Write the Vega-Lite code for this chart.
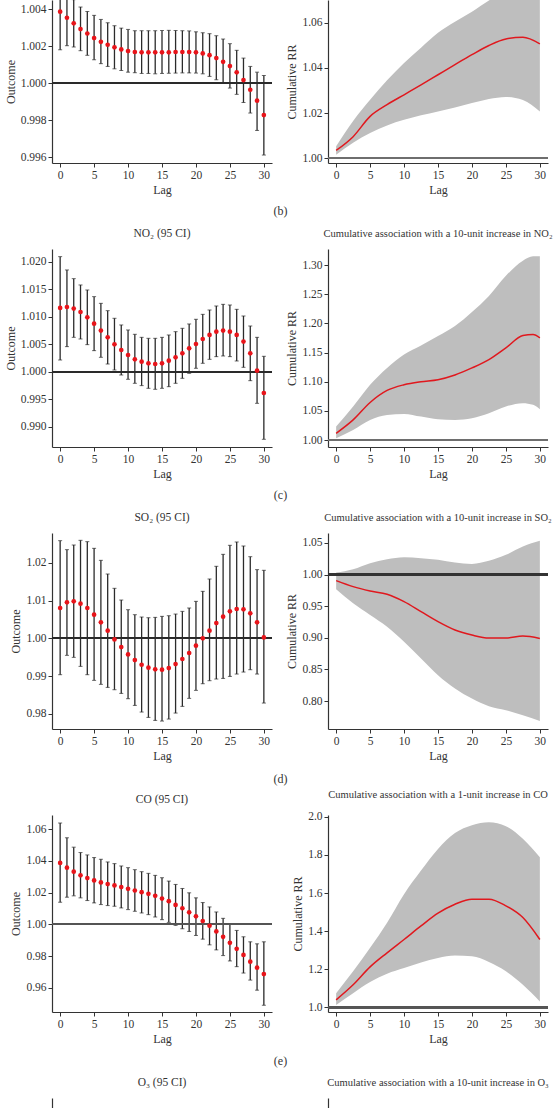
{
  "$schema": "https://vega.github.io/schema/vega-lite/v6.json",
  "padding": {"left": 4, "top": 0, "right": 0, "bottom": 0},
  "bounds": "flush",
  "columns": 2,
  "spacing": {"row": 86, "column": 56},
  "datasets": {
    "pm_lag": [
      {"lag":0,"est":1.00386,"lo":1.0018,"hi":1.0059},
      {"lag":1,"est":1.00353,"lo":1.00202,"hi":1.00504},
      {"lag":2,"est":1.00323,"lo":1.00195,"hi":1.00451},
      {"lag":3,"est":1.00292,"lo":1.00175,"hi":1.00411},
      {"lag":4,"est":1.00268,"lo":1.0015,"hi":1.00387},
      {"lag":5,"est":1.00243,"lo":1.00126,"hi":1.00366},
      {"lag":6,"est":1.00223,"lo":1.00105,"hi":1.00344},
      {"lag":7,"est":1.00207,"lo":1.0009,"hi":1.00326},
      {"lag":8,"est":1.00193,"lo":1.00077,"hi":1.0031},
      {"lag":9,"est":1.00182,"lo":1.00068,"hi":1.00297},
      {"lag":10,"est":1.00173,"lo":1.00059,"hi":1.0029},
      {"lag":11,"est":1.00168,"lo":1.00056,"hi":1.00283},
      {"lag":12,"est":1.00166,"lo":1.00052,"hi":1.00283},
      {"lag":13,"est":1.00166,"lo":1.00052,"hi":1.00283},
      {"lag":14,"est":1.00166,"lo":1.0005,"hi":1.00283},
      {"lag":15,"est":1.00166,"lo":1.00052,"hi":1.00284},
      {"lag":16,"est":1.00166,"lo":1.00053,"hi":1.00285},
      {"lag":17,"est":1.00168,"lo":1.00054,"hi":1.00284},
      {"lag":18,"est":1.00168,"lo":1.00055,"hi":1.00283},
      {"lag":19,"est":1.00168,"lo":1.00055,"hi":1.00282},
      {"lag":20,"est":1.00166,"lo":1.00054,"hi":1.00277},
      {"lag":21,"est":1.0016,"lo":1.0005,"hi":1.00272},
      {"lag":22,"est":1.00151,"lo":1.00036,"hi":1.00267},
      {"lag":23,"est":1.00135,"lo":1.00018,"hi":1.00256},
      {"lag":24,"est":1.00115,"lo":1.0,"hi":1.00238},
      {"lag":25,"est":1.00092,"lo":0.99973,"hi":1.00213},
      {"lag":26,"est":1.00058,"lo":0.99939,"hi":1.00177},
      {"lag":27,"est":1.00016,"lo":0.99895,"hi":1.00135},
      {"lag":28,"est":0.99964,"lo":0.99838,"hi":1.0009},
      {"lag":29,"est":0.99905,"lo":0.99744,"hi":1.00059},
      {"lag":30,"est":0.99827,"lo":0.99611,"hi":1.00041}
    ],
    "pm_cum": [
      {"lag":0,"est":1.0034,"lo":1.0015,"hi":1.0052},
      {"lag":2.5,"est":1.0095,"lo":1.0068,"hi":1.0165},
      {"lag":5,"est":1.0185,"lo":1.0111,"hi":1.0259},
      {"lag":7.5,"est":1.0237,"lo":1.0145,"hi":1.0345},
      {"lag":10,"est":1.0281,"lo":1.017,"hi":1.0422},
      {"lag":12.5,"est":1.0325,"lo":1.019,"hi":1.049},
      {"lag":15,"est":1.037,"lo":1.0207,"hi":1.0556},
      {"lag":17.5,"est":1.0415,"lo":1.0225,"hi":1.0605},
      {"lag":20,"est":1.0459,"lo":1.0244,"hi":1.065},
      {"lag":22.5,"est":1.05,"lo":1.0262,"hi":1.07},
      {"lag":25,"est":1.0529,"lo":1.0271,"hi":1.074},
      {"lag":27.5,"est":1.0536,"lo":1.0258,"hi":1.078},
      {"lag":30,"est":1.0507,"lo":1.0207,"hi":1.081}
    ],
    "no2_lag": [
      {"lag":0,"est":1.01164,"lo":1.00218,"hi":1.02097},
      {"lag":1,"est":1.01182,"lo":1.00461,"hi":1.01855},
      {"lag":2,"est":1.01152,"lo":1.0063,"hi":1.01697},
      {"lag":3,"est":1.01091,"lo":1.006,"hi":1.01582},
      {"lag":4,"est":1.00994,"lo":1.00497,"hi":1.01491},
      {"lag":5,"est":1.00879,"lo":1.00388,"hi":1.0137},
      {"lag":6,"est":1.00752,"lo":1.00267,"hi":1.01248},
      {"lag":7,"est":1.0063,"lo":1.00145,"hi":1.01115},
      {"lag":8,"est":1.00503,"lo":1.00036,"hi":1.00976},
      {"lag":9,"est":1.004,"lo":0.99945,"hi":1.00855},
      {"lag":10,"est":1.00309,"lo":0.99867,"hi":1.00764},
      {"lag":11,"est":1.0023,"lo":0.99794,"hi":1.00685},
      {"lag":12,"est":1.00188,"lo":0.99752,"hi":1.0063},
      {"lag":13,"est":1.00158,"lo":0.99703,"hi":1.00612},
      {"lag":14,"est":1.00145,"lo":0.99685,"hi":1.00612},
      {"lag":15,"est":1.00158,"lo":0.99703,"hi":1.0063},
      {"lag":16,"est":1.00206,"lo":0.99733,"hi":1.00673},
      {"lag":17,"est":1.00267,"lo":0.99794,"hi":1.00733},
      {"lag":18,"est":1.00339,"lo":0.99885,"hi":1.00794},
      {"lag":19,"est":1.0043,"lo":0.99976,"hi":1.00873},
      {"lag":20,"est":1.00509,"lo":1.00067,"hi":1.00958},
      {"lag":21,"est":1.006,"lo":1.00158,"hi":1.01048},
      {"lag":22,"est":1.00673,"lo":1.0023,"hi":1.01127},
      {"lag":23,"est":1.00733,"lo":1.00279,"hi":1.012},
      {"lag":24,"est":1.00752,"lo":1.00291,"hi":1.0123},
      {"lag":25,"est":1.00733,"lo":1.00279,"hi":1.01218},
      {"lag":26,"est":1.00673,"lo":1.002,"hi":1.01139},
      {"lag":27,"est":1.00552,"lo":1.00085,"hi":1.01018},
      {"lag":28,"est":1.00339,"lo":0.99842,"hi":1.00836},
      {"lag":29,"est":1.00024,"lo":0.9943,"hi":1.0063},
      {"lag":30,"est":0.99618,"lo":0.98776,"hi":1.00285}
    ],
    "no2_cum": [
      {"lag":0,"est":1.0115,"lo":1.0029,"hi":1.023},
      {"lag":2.5,"est":1.0345,"lo":1.0172,"hi":1.0575},
      {"lag":5,"est":1.0644,"lo":1.0345,"hi":1.0948},
      {"lag":7.5,"est":1.085,"lo":1.0431,"hi":1.1236},
      {"lag":10,"est":1.0948,"lo":1.0448,"hi":1.1466},
      {"lag":12.5,"est":1.1,"lo":1.0402,"hi":1.162},
      {"lag":15,"est":1.1034,"lo":1.0356,"hi":1.1782},
      {"lag":17.5,"est":1.1115,"lo":1.0345,"hi":1.1954},
      {"lag":20,"est":1.1236,"lo":1.0374,"hi":1.2195},
      {"lag":22.5,"est":1.1379,"lo":1.046,"hi":1.2471},
      {"lag":25,"est":1.158,"lo":1.0575,"hi":1.2816},
      {"lag":27.5,"est":1.1793,"lo":1.0632,"hi":1.3075},
      {"lag":29,"est":1.181,"lo":1.0603,"hi":1.315},
      {"lag":30,"est":1.1753,"lo":1.0529,"hi":1.315}
    ],
    "so2_lag": [
      {"lag":0,"est":1.00804,"lo":0.99038,"hi":1.02587},
      {"lag":1,"est":1.00954,"lo":0.9955,"hi":1.02349},
      {"lag":2,"est":1.0098,"lo":0.99497,"hi":1.02472},
      {"lag":3,"est":1.00918,"lo":0.99258,"hi":1.02596},
      {"lag":4,"est":1.00804,"lo":0.99038,"hi":1.02561},
      {"lag":5,"est":1.00627,"lo":0.98888,"hi":1.02384},
      {"lag":6,"est":1.00424,"lo":0.98782,"hi":1.02066},
      {"lag":7,"est":1.00203,"lo":0.98702,"hi":1.01704},
      {"lag":8,"est":0.99973,"lo":0.9864,"hi":1.01325},
      {"lag":9,"est":0.9977,"lo":0.98543,"hi":1.01015},
      {"lag":10,"est":0.99576,"lo":0.98402,"hi":1.00759},
      {"lag":11,"est":0.99426,"lo":0.98225,"hi":1.00627},
      {"lag":12,"est":0.99302,"lo":0.98049,"hi":1.00565},
      {"lag":13,"est":0.99223,"lo":0.97907,"hi":1.00547},
      {"lag":14,"est":0.99179,"lo":0.97828,"hi":1.00556},
      {"lag":15,"est":0.9917,"lo":0.9781,"hi":1.00583},
      {"lag":16,"est":0.99214,"lo":0.97863,"hi":1.006},
      {"lag":17,"est":0.9932,"lo":0.98022,"hi":1.00644},
      {"lag":18,"est":0.99453,"lo":0.98199,"hi":1.00715},
      {"lag":19,"est":0.99612,"lo":0.98411,"hi":1.00804},
      {"lag":20,"est":0.99806,"lo":0.98623,"hi":1.0098},
      {"lag":21,"est":1.0,"lo":0.98799,"hi":1.01245},
      {"lag":22,"est":1.00203,"lo":0.98879,"hi":1.01572},
      {"lag":23,"est":1.00406,"lo":0.98923,"hi":1.01908},
      {"lag":24,"est":1.00574,"lo":0.9894,"hi":1.02225},
      {"lag":25,"est":1.00715,"lo":0.98993,"hi":1.02464},
      {"lag":26,"est":1.00777,"lo":0.99055,"hi":1.02552},
      {"lag":27,"est":1.00768,"lo":0.99108,"hi":1.02446},
      {"lag":28,"est":1.00662,"lo":0.9917,"hi":1.02163},
      {"lag":29,"est":1.00424,"lo":0.99055,"hi":1.0182},
      {"lag":30,"est":1.00026,"lo":0.98287,"hi":1.01802}
    ],
    "so2_cum": [
      {"lag":0,"est":0.9905,"lo":0.9767,"hi":1.0032},
      {"lag":2.5,"est":0.981,"lo":0.9545,"hi":1.0085},
      {"lag":5,"est":0.9741,"lo":0.936,"hi":1.018},
      {"lag":7.5,"est":0.9688,"lo":0.9175,"hi":1.0243},
      {"lag":10,"est":0.9572,"lo":0.8938,"hi":1.0275},
      {"lag":12.5,"est":0.9413,"lo":0.8673,"hi":1.0259},
      {"lag":15,"est":0.9255,"lo":0.8409,"hi":1.0233},
      {"lag":17.5,"est":0.9123,"lo":0.8198,"hi":1.019},
      {"lag":20,"est":0.9043,"lo":0.8039,"hi":1.0169},
      {"lag":22.5,"est":0.8996,"lo":0.7918,"hi":1.0217},
      {"lag":25,"est":0.8996,"lo":0.7854,"hi":1.0312},
      {"lag":27.5,"est":0.9027,"lo":0.7775,"hi":1.0444},
      {"lag":30,"est":0.899,"lo":0.7685,"hi":1.0534}
    ],
    "co_lag": [
      {"lag":0,"est":1.03869,"lo":1.01395,"hi":1.06385},
      {"lag":1,"est":1.03573,"lo":1.01712,"hi":1.05455},
      {"lag":2,"est":1.03319,"lo":1.01797,"hi":1.04863},
      {"lag":3,"est":1.03087,"lo":1.0167,"hi":1.04524},
      {"lag":4,"est":1.02918,"lo":1.01501,"hi":1.04376},
      {"lag":5,"est":1.0277,"lo":1.01353,"hi":1.04207},
      {"lag":6,"est":1.02643,"lo":1.01247,"hi":1.04101},
      {"lag":7,"est":1.02537,"lo":1.01184,"hi":1.03932},
      {"lag":8,"est":1.02452,"lo":1.01142,"hi":1.03827},
      {"lag":9,"est":1.02347,"lo":1.01036,"hi":1.03679},
      {"lag":10,"est":1.02241,"lo":1.0093,"hi":1.03573},
      {"lag":11,"est":1.02135,"lo":1.00825,"hi":1.03446},
      {"lag":12,"est":1.0203,"lo":1.00719,"hi":1.03319},
      {"lag":13,"est":1.01924,"lo":1.00613,"hi":1.03214},
      {"lag":14,"est":1.01797,"lo":1.00465,"hi":1.03087},
      {"lag":15,"est":1.01628,"lo":1.00296,"hi":1.02939},
      {"lag":16,"est":1.01459,"lo":1.00127,"hi":1.02727},
      {"lag":17,"est":1.01226,"lo":0.99937,"hi":1.02516},
      {"lag":18,"est":1.01015,"lo":0.99725,"hi":1.02262},
      {"lag":19,"est":1.00761,"lo":0.99556,"hi":1.01987},
      {"lag":20,"est":1.00507,"lo":0.99302,"hi":1.0167},
      {"lag":21,"est":1.00211,"lo":0.9907,"hi":1.01374},
      {"lag":22,"est":0.99915,"lo":0.9871,"hi":1.01099},
      {"lag":23,"est":0.99556,"lo":0.98393,"hi":1.00782},
      {"lag":24,"est":0.99218,"lo":0.98034,"hi":1.00381},
      {"lag":25,"est":0.98837,"lo":0.97696,"hi":1.00021},
      {"lag":26,"est":0.98457,"lo":0.97336,"hi":0.99619},
      {"lag":27,"est":0.98076,"lo":0.96934,"hi":0.99218},
      {"lag":28,"est":0.97653,"lo":0.9649,"hi":0.98901},
      {"lag":29,"est":0.97273,"lo":0.95856,"hi":0.98774},
      {"lag":30,"est":0.96871,"lo":0.94905,"hi":0.98901}
    ],
    "co_cum": [
      {"lag":0,"est":1.039,"lo":1.012,"hi":1.074},
      {"lag":2.5,"est":1.118,"lo":1.074,"hi":1.189},
      {"lag":5,"est":1.212,"lo":1.132,"hi":1.312},
      {"lag":7.5,"est":1.286,"lo":1.176,"hi":1.444},
      {"lag":10,"est":1.356,"lo":1.206,"hi":1.594},
      {"lag":12.5,"est":1.427,"lo":1.235,"hi":1.718},
      {"lag":15,"est":1.494,"lo":1.259,"hi":1.832},
      {"lag":17.5,"est":1.541,"lo":1.272,"hi":1.915},
      {"lag":20,"est":1.568,"lo":1.268,"hi":1.956},
      {"lag":22.5,"est":1.568,"lo":1.238,"hi":1.972},
      {"lag":25,"est":1.533,"lo":1.189,"hi":1.951},
      {"lag":27.5,"est":1.471,"lo":1.118,"hi":1.885},
      {"lag":30,"est":1.356,"lo":1.03,"hi":1.788}
    ]
  },
  "concat": [
    {
      "width": 220, "height": 163,
      "data": {"name": "pm_lag"},
      "layer": [
        {"mark": {"type": "rule", "color": "#2b2b2b", "strokeWidth": 1.3, "clip": true},
         "encoding": {
           "x": {"field": "lag", "type": "quantitative", "scale": {"domain": [-1.2, 31.2], "nice": false, "zero": false}, "axis": {"orient": "bottom", "values": [0,5,10,15,20,25,30], "title": "Lag"}},
           "y": {"field": "lo", "type": "quantitative", "scale": {"domain": [0.99568, 1.00449], "nice": false, "zero": false}, "axis": {"values": [0.996,0.998,1.0,1.002,1.004], "format": ".3f", "title": "Outcome"}},
           "y2": {"field": "hi"}}},
        {"mark": {"type": "tick", "orient": "horizontal", "size": 4, "thickness": 1, "color": "#2b2b2b", "clip": true},
         "encoding": {"x": {"field": "lag", "type": "quantitative", "axis": null}, "y": {"field": "hi", "type": "quantitative", "axis": {"values": [0.996,0.998,1.0,1.002,1.004], "format": ".3f", "title": "Outcome"}}}},
        {"mark": {"type": "tick", "orient": "horizontal", "size": 4, "thickness": 1, "color": "#2b2b2b", "clip": true},
         "encoding": {"x": {"field": "lag", "type": "quantitative", "axis": null}, "y": {"field": "lo", "type": "quantitative", "axis": {"values": [0.996,0.998,1.0,1.002,1.004], "format": ".3f", "title": "Outcome"}}}},
        {"mark": {"type": "rule", "color": "#2b2b2b", "strokeWidth": 1.2}, "encoding": {"y": {"datum": 1, "axis": {"values": [0.996,0.998,1.0,1.002,1.004], "format": ".3f", "title": "Outcome"}}}},
        {"mark": {"type": "point", "filled": true, "color": "#e8141a", "size": 22, "opacity": 1, "clip": true},
         "encoding": {
           "x": {"field": "lag", "type": "quantitative", "axis": {"orient": "bottom", "title": "(b)", "domain": false, "ticks": false, "labels": false, "grid": false, "titleX": 228, "titleY": 42, "titleAlign": "center", "titleBaseline": "top"}},
           "y": {"field": "est", "type": "quantitative", "axis": {"values": [0.996,0.998,1.0,1.002,1.004], "format": ".3f", "title": "Outcome"}}}}
      ],
      "resolve": {"axis": {"x": "independent"}}
    },
    {
      "width": 220, "height": 163,
      "data": {"name": "pm_cum"},
      "layer": [
        {"mark": {"type": "area", "color": "#bebebe", "opacity": 1, "clip": true, "interpolate": "monotone"},
         "encoding": {
           "x": {"field": "lag", "type": "quantitative", "scale": {"domain": [-1.2, 31.2], "nice": false, "zero": false}, "axis": {"values": [0,5,10,15,20,25,30], "title": "Lag"}},
           "y": {"field": "lo", "type": "quantitative", "scale": {"domain": [0.9978, 1.0702], "nice": false, "zero": false}, "axis": {"values": [1.0,1.02,1.04,1.06], "format": ".2f", "title": "Cumulative RR"}},
           "y2": {"field": "hi"}}},
        {"mark": {"type": "rule", "color": "#6e6e6e", "strokeWidth": 2}, "encoding": {"y": {"datum": 1, "axis": {"values": [1.0,1.02,1.04,1.06], "format": ".2f", "title": "Cumulative RR"}}}},
        {"mark": {"type": "line", "color": "#e0181e", "strokeWidth": 1.5, "clip": true, "interpolate": "monotone"},
         "encoding": {"x": {"field": "lag", "type": "quantitative", "axis": {"values": [0,5,10,15,20,25,30], "title": "Lag"}}, "y": {"field": "est", "type": "quantitative", "axis": {"values": [1.0,1.02,1.04,1.06], "format": ".2f", "title": "Cumulative RR"}}}}
      ]
    },
    {
      "width": 220, "height": 198,
      "title": "NO₂ (95 CI)",
      "data": {"name": "no2_lag"},
      "layer": [
        {"mark": {"type": "rule", "color": "#2b2b2b", "strokeWidth": 1.3, "clip": true},
         "encoding": {
           "x": {"field": "lag", "type": "quantitative", "scale": {"domain": [-1.2, 31.2], "nice": false, "zero": false}, "axis": {"orient": "bottom", "values": [0,5,10,15,20,25,30], "title": "Lag"}},
           "y": {"field": "lo", "type": "quantitative", "scale": {"domain": [0.98636, 1.02236], "nice": false, "zero": false}, "axis": {"values": [0.99,0.995,1.0,1.005,1.01,1.015,1.02], "format": ".3f", "title": "Outcome"}},
           "y2": {"field": "hi"}}},
        {"mark": {"type": "tick", "orient": "horizontal", "size": 4, "thickness": 1, "color": "#2b2b2b", "clip": true},
         "encoding": {"x": {"field": "lag", "type": "quantitative", "axis": null}, "y": {"field": "hi", "type": "quantitative", "axis": {"values": [0.99,0.995,1.0,1.005,1.01,1.015,1.02], "format": ".3f", "title": "Outcome"}}}},
        {"mark": {"type": "tick", "orient": "horizontal", "size": 4, "thickness": 1, "color": "#2b2b2b", "clip": true},
         "encoding": {"x": {"field": "lag", "type": "quantitative", "axis": null}, "y": {"field": "lo", "type": "quantitative", "axis": {"values": [0.99,0.995,1.0,1.005,1.01,1.015,1.02], "format": ".3f", "title": "Outcome"}}}},
        {"mark": {"type": "rule", "color": "#2b2b2b", "strokeWidth": 1.2}, "encoding": {"y": {"datum": 1, "axis": {"values": [0.99,0.995,1.0,1.005,1.01,1.015,1.02], "format": ".3f", "title": "Outcome"}}}},
        {"mark": {"type": "point", "filled": true, "color": "#e8141a", "size": 22, "opacity": 1, "clip": true},
         "encoding": {
           "x": {"field": "lag", "type": "quantitative", "axis": {"orient": "bottom", "title": "(c)", "domain": false, "ticks": false, "labels": false, "grid": false, "titleX": 228, "titleY": 42, "titleAlign": "center", "titleBaseline": "top"}},
           "y": {"field": "est", "type": "quantitative", "axis": {"values": [0.99,0.995,1.0,1.005,1.01,1.015,1.02], "format": ".3f", "title": "Outcome"}}}}
      ],
      "resolve": {"axis": {"x": "independent"}}
    },
    {
      "width": 220, "height": 198,
      "title": {"text": "Cumulative association with a 10-unit increase in NO₂", "fontSize": 10.5},
      "data": {"name": "no2_cum"},
      "layer": [
        {"mark": {"type": "area", "color": "#bebebe", "opacity": 1, "clip": true, "interpolate": "monotone"},
         "encoding": {
           "x": {"field": "lag", "type": "quantitative", "scale": {"domain": [-1.2, 31.2], "nice": false, "zero": false}, "axis": {"values": [0,5,10,15,20,25,30], "title": "Lag"}},
           "y": {"field": "lo", "type": "quantitative", "scale": {"domain": [0.988, 1.3276], "nice": false, "zero": false}, "axis": {"values": [1.0,1.05,1.1,1.15,1.2,1.25,1.3], "format": ".2f", "title": "Cumulative RR"}},
           "y2": {"field": "hi"}}},
        {"mark": {"type": "rule", "color": "#6e6e6e", "strokeWidth": 2}, "encoding": {"y": {"datum": 1, "axis": {"values": [1.0,1.05,1.1,1.15,1.2,1.25,1.3], "format": ".2f", "title": "Cumulative RR"}}}},
        {"mark": {"type": "line", "color": "#e0181e", "strokeWidth": 1.5, "clip": true, "interpolate": "monotone"},
         "encoding": {"x": {"field": "lag", "type": "quantitative", "axis": {"values": [0,5,10,15,20,25,30], "title": "Lag"}}, "y": {"field": "est", "type": "quantitative", "axis": {"values": [1.0,1.05,1.1,1.15,1.2,1.25,1.3], "format": ".2f", "title": "Cumulative RR"}}}}
      ]
    },
    {
      "width": 220, "height": 196,
      "title": "SO₂ (95 CI)",
      "data": {"name": "so2_lag"},
      "layer": [
        {"mark": {"type": "rule", "color": "#2b2b2b", "strokeWidth": 1.3, "clip": true},
         "encoding": {
           "x": {"field": "lag", "type": "quantitative", "scale": {"domain": [-1.2, 31.2], "nice": false, "zero": false}, "axis": {"orient": "bottom", "values": [0,5,10,15,20,25,30], "title": "Lag"}},
           "y": {"field": "lo", "type": "quantitative", "scale": {"domain": [0.976, 1.0279], "nice": false, "zero": false}, "axis": {"values": [0.98,0.99,1.0,1.01,1.02], "format": ".2f", "title": "Outcome"}},
           "y2": {"field": "hi"}}},
        {"mark": {"type": "tick", "orient": "horizontal", "size": 4, "thickness": 1, "color": "#2b2b2b", "clip": true},
         "encoding": {"x": {"field": "lag", "type": "quantitative", "axis": null}, "y": {"field": "hi", "type": "quantitative", "axis": {"values": [0.98,0.99,1.0,1.01,1.02], "format": ".2f", "title": "Outcome"}}}},
        {"mark": {"type": "tick", "orient": "horizontal", "size": 4, "thickness": 1, "color": "#2b2b2b", "clip": true},
         "encoding": {"x": {"field": "lag", "type": "quantitative", "axis": null}, "y": {"field": "lo", "type": "quantitative", "axis": {"values": [0.98,0.99,1.0,1.01,1.02], "format": ".2f", "title": "Outcome"}}}},
        {"mark": {"type": "rule", "color": "#2b2b2b", "strokeWidth": 1.2}, "encoding": {"y": {"datum": 1, "axis": {"values": [0.98,0.99,1.0,1.01,1.02], "format": ".2f", "title": "Outcome"}}}},
        {"mark": {"type": "point", "filled": true, "color": "#e8141a", "size": 22, "opacity": 1, "clip": true},
         "encoding": {
           "x": {"field": "lag", "type": "quantitative", "axis": {"orient": "bottom", "title": "(d)", "domain": false, "ticks": false, "labels": false, "grid": false, "titleX": 228, "titleY": 44, "titleAlign": "center", "titleBaseline": "top"}},
           "y": {"field": "est", "type": "quantitative", "axis": {"values": [0.98,0.99,1.0,1.01,1.02], "format": ".2f", "title": "Outcome"}}}}
      ],
      "resolve": {"axis": {"x": "independent"}}
    },
    {
      "width": 220, "height": 196,
      "title": {"text": "Cumulative association with a 10-unit increase in SO₂", "fontSize": 10.5},
      "data": {"name": "so2_cum"},
      "layer": [
        {"mark": {"type": "area", "color": "#bebebe", "opacity": 1, "clip": true, "interpolate": "monotone"},
         "encoding": {
           "x": {"field": "lag", "type": "quantitative", "scale": {"domain": [-1.2, 31.2], "nice": false, "zero": false}, "axis": {"values": [0,5,10,15,20,25,30], "title": "Lag"}},
           "y": {"field": "lo", "type": "quantitative", "scale": {"domain": [0.7557, 1.0658], "nice": false, "zero": false}, "axis": {"values": [0.8,0.85,0.9,0.95,1.0,1.05], "format": ".2f", "title": "Cumulative RR"}},
           "y2": {"field": "hi"}}},
        {"mark": {"type": "rule", "color": "#333333", "strokeWidth": 1.5}, "encoding": {"y": {"datum": 1, "axis": {"values": [0.8,0.85,0.9,0.95,1.0,1.05], "format": ".2f", "title": "Cumulative RR"}}}},
        {"mark": {"type": "line", "color": "#e0181e", "strokeWidth": 1.5, "clip": true, "interpolate": "monotone"},
         "encoding": {"x": {"field": "lag", "type": "quantitative", "axis": {"values": [0,5,10,15,20,25,30], "title": "Lag"}}, "y": {"field": "est", "type": "quantitative", "axis": {"values": [0.8,0.85,0.9,0.95,1.0,1.05], "format": ".2f", "title": "Cumulative RR"}}}}
      ]
    },
    {
      "width": 220, "height": 197,
      "title": "CO (95 CI)",
      "data": {"name": "co_lag"},
      "layer": [
        {"mark": {"type": "rule", "color": "#2b2b2b", "strokeWidth": 1.3, "clip": true},
         "encoding": {
           "x": {"field": "lag", "type": "quantitative", "scale": {"domain": [-1.2, 31.2], "nice": false, "zero": false}, "axis": {"orient": "bottom", "values": [0,5,10,15,20,25,30], "title": "Lag"}},
           "y": {"field": "lo", "type": "quantitative", "scale": {"domain": [0.9448, 1.0689], "nice": false, "zero": false}, "axis": {"values": [0.96,0.98,1.0,1.02,1.04,1.06], "format": ".2f", "title": "Outcome"}},
           "y2": {"field": "hi"}}},
        {"mark": {"type": "tick", "orient": "horizontal", "size": 4, "thickness": 1, "color": "#2b2b2b", "clip": true},
         "encoding": {"x": {"field": "lag", "type": "quantitative", "axis": null}, "y": {"field": "hi", "type": "quantitative", "axis": {"values": [0.96,0.98,1.0,1.02,1.04,1.06], "format": ".2f", "title": "Outcome"}}}},
        {"mark": {"type": "tick", "orient": "horizontal", "size": 4, "thickness": 1, "color": "#2b2b2b", "clip": true},
         "encoding": {"x": {"field": "lag", "type": "quantitative", "axis": null}, "y": {"field": "lo", "type": "quantitative", "axis": {"values": [0.96,0.98,1.0,1.02,1.04,1.06], "format": ".2f", "title": "Outcome"}}}},
        {"mark": {"type": "rule", "color": "#555555", "strokeWidth": 1.5}, "encoding": {"y": {"datum": 1, "axis": {"values": [0.96,0.98,1.0,1.02,1.04,1.06], "format": ".2f", "title": "Outcome"}}}},
        {"mark": {"type": "point", "filled": true, "color": "#e8141a", "size": 22, "opacity": 1, "clip": true},
         "encoding": {
           "x": {"field": "lag", "type": "quantitative", "axis": {"orient": "bottom", "title": "(e)", "domain": false, "ticks": false, "labels": false, "grid": false, "titleX": 228, "titleY": 43, "titleAlign": "center", "titleBaseline": "top"}},
           "y": {"field": "est", "type": "quantitative", "axis": {"values": [0.96,0.98,1.0,1.02,1.04,1.06], "format": ".2f", "title": "Outcome"}}}}
      ],
      "resolve": {"axis": {"x": "independent"}}
    },
    {
      "width": 220, "height": 197,
      "title": {"text": "Cumulative association with a 1-unit increase in CO", "fontSize": 10.5},
      "data": {"name": "co_cum"},
      "layer": [
        {"mark": {"type": "area", "color": "#bebebe", "opacity": 1, "clip": true, "interpolate": "monotone"},
         "encoding": {
           "x": {"field": "lag", "type": "quantitative", "scale": {"domain": [-1.2, 31.2], "nice": false, "zero": false}, "axis": {"values": [0,5,10,15,20,25,30], "title": "Lag"}},
           "y": {"field": "lo", "type": "quantitative", "scale": {"domain": [0.975, 2.01], "nice": false, "zero": false}, "axis": {"values": [1.0,1.2,1.4,1.6,1.8,2.0], "format": ".1f", "title": "Cumulative RR"}},
           "y2": {"field": "hi"}}},
        {"mark": {"type": "rule", "color": "#555555", "strokeWidth": 1.8}, "encoding": {"y": {"datum": 1, "axis": {"values": [1.0,1.2,1.4,1.6,1.8,2.0], "format": ".1f", "title": "Cumulative RR"}}}},
        {"mark": {"type": "line", "color": "#e0181e", "strokeWidth": 1.5, "clip": true, "interpolate": "monotone"},
         "encoding": {"x": {"field": "lag", "type": "quantitative", "axis": {"values": [0,5,10,15,20,25,30], "title": "Lag"}}, "y": {"field": "est", "type": "quantitative", "axis": {"values": [1.0,1.2,1.4,1.6,1.8,2.0], "format": ".1f", "title": "Cumulative RR"}}}}
      ]
    },
    {
      "width": 220, "height": 10,
      "title": "O₃ (95 CI)",
      "data": {"values": []},
      "mark": {"type": "rule", "color": "#2b2b2b"},
      "encoding": {"y": {"field": "v", "type": "quantitative", "scale": {"domain": [0, 1]}, "axis": {"labels": false, "ticks": false, "title": null}}}
    },
    {
      "width": 220, "height": 10,
      "title": {"text": "Cumulative association with a 10-unit increase in O₃", "fontSize": 10.5},
      "data": {"values": []},
      "mark": {"type": "rule", "color": "#2b2b2b"},
      "encoding": {"y": {"field": "v", "type": "quantitative", "scale": {"domain": [0, 1]}, "axis": {"labels": false, "ticks": false, "title": null}}}
    }
  ],
  "config": {
    "font": "Liberation Serif",
    "view": {"stroke": null},
    "axis": {
      "grid": false,
      "domainColor": "#333333",
      "domainWidth": 1.2,
      "tickColor": "#333333",
      "tickSize": 4,
      "tickWidth": 1,
      "labelFontSize": 11.5,
      "labelColor": "#333333",
      "labelPadding": 2,
      "labelOverlap": false,
      "labelFlush": false,
      "titleFontSize": 12,
      "titleFontWeight": "normal",
      "titleColor": "#333333"
    },
    "axisX": {"titlePadding": 4},
    "axisY": {"titlePadding": 3},
    "title": {"fontSize": 11.5, "fontWeight": "normal", "color": "#333333", "offset": 10}
  }
}
